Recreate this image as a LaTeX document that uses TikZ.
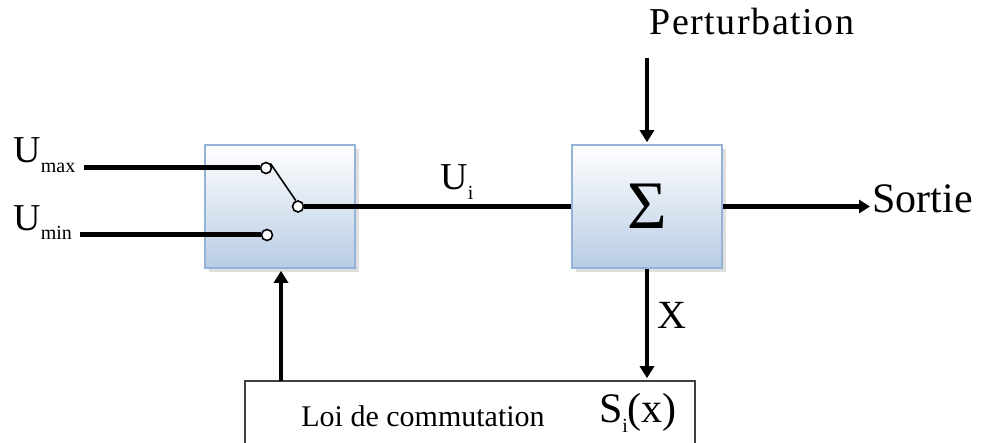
\documentclass[tikz,border=0pt]{standalone}
\usepackage{fontspec}
\setmainfont{Liberation Serif}
\usetikzlibrary{positioning,arrows.meta,shadows}

\definecolor{blocbas}{RGB}{184,204,228}
\definecolor{bloctrait}{RGB}{149,179,215}
\newcommand{\indice}[1]{\raisebox{-.55ex}{\fontsize{10}{10}\selectfont #1}}

\begin{document}
\begin{tikzpicture}[x=0.5pt,y=-0.5pt,>={Triangle[length=6pt,width=7pt]}]
	\tikzstyle{lbl}=[inner sep=0pt,font=\fontsize{19}{20}\selectfont]
	\tikzstyle{bloc}=[draw=bloctrait,line width=0.8pt,top color=white,bottom color=blocbas,
		minimum width=75pt,minimum height=61.5pt,
		drop shadow={shadow xshift=2pt,shadow yshift=-2pt,fill=black!25}]
	\tikzstyle{contact}=[circle,draw,fill=white,line width=0.8pt,minimum size=5.5pt,inner sep=0pt]
	\tikzstyle{fil}=[line width=2.5pt]
	\tikzstyle{fleche}=[->,line width=2pt,shorten >=1pt]
	\tikzstyle{loi}=[draw=black!75,line width=0.8pt,minimum width=225pt,minimum height=40pt]

	\useasboundingbox (0,0) rectangle (984,443);

	% blocs
	\node[bloc] (inter) at (280,206.5) {};
	\node[bloc] (somme) at (647,206.5) {\fontsize{34}{36}\selectfont Σ};
	\node[loi] (loi) at (470,421) {};

	% interrupteur
	\node[contact] (cmax) at (266,168) {};
	\node[contact] (cmin) at (267,235) {};
	\node[contact] (cmid) at (298,206.5) {};
	\draw[line width=0.8pt] (cmax.45) -- (cmid.110);

	% entrees
	\node[lbl,anchor=base west] (umax) at (13,163) {U\indice{max}};
	\node[lbl,anchor=base west] (umin) at (13,230) {U\indice{min}};
	\draw[fil] ([xshift=4pt]umax.east |- cmax) -- (cmax.west);
	\draw[fil] ([xshift=4pt]umin.east |- cmin) -- (cmin.west);

	% commande vers la somme
	\draw[fil] (cmid.east) -- (cmid.east -| somme.west);
	\node[lbl,anchor=base west] (ui) at (440,190) {U\indice{i}};

	% perturbation et sortie
	\node[lbl,font=\fontsize{19}{20}\selectfont\addfontfeature{LetterSpace=4}] (pert) at (752,22) {Perturbation};
	\coordinate (pin) at (647,58);
	\draw[fleche] (pin) -- (somme.north);
	\node[lbl,anchor=base west,font=\fontsize{21}{22}\selectfont] (sortie) at (872,213) {Sortie};
	\draw[fleche,line width=2.2pt,>={Triangle[length=5.5pt,width=6.5pt]}] (somme.east) -- (somme.east -| sortie.west);

	% boucle de commutation
	\draw[fleche] (somme.south) -- node[lbl,right=4pt,pos=.42,font=\fontsize{20}{22}\selectfont] (xlab) {X} (somme.south |- loi.north);
	\coordinate (retour) at (281,381);
	\draw[fleche] (retour) -- (retour |- inter.south);

	\node[lbl,font=\fontsize{15}{16}\selectfont] (loitxt) at (423,416) {Loi de commutation};
	\node[lbl,font=\fontsize{21}{22}\selectfont] (si) at (638,413) {S\indice{i}(x)};
\end{tikzpicture}
\end{document}
